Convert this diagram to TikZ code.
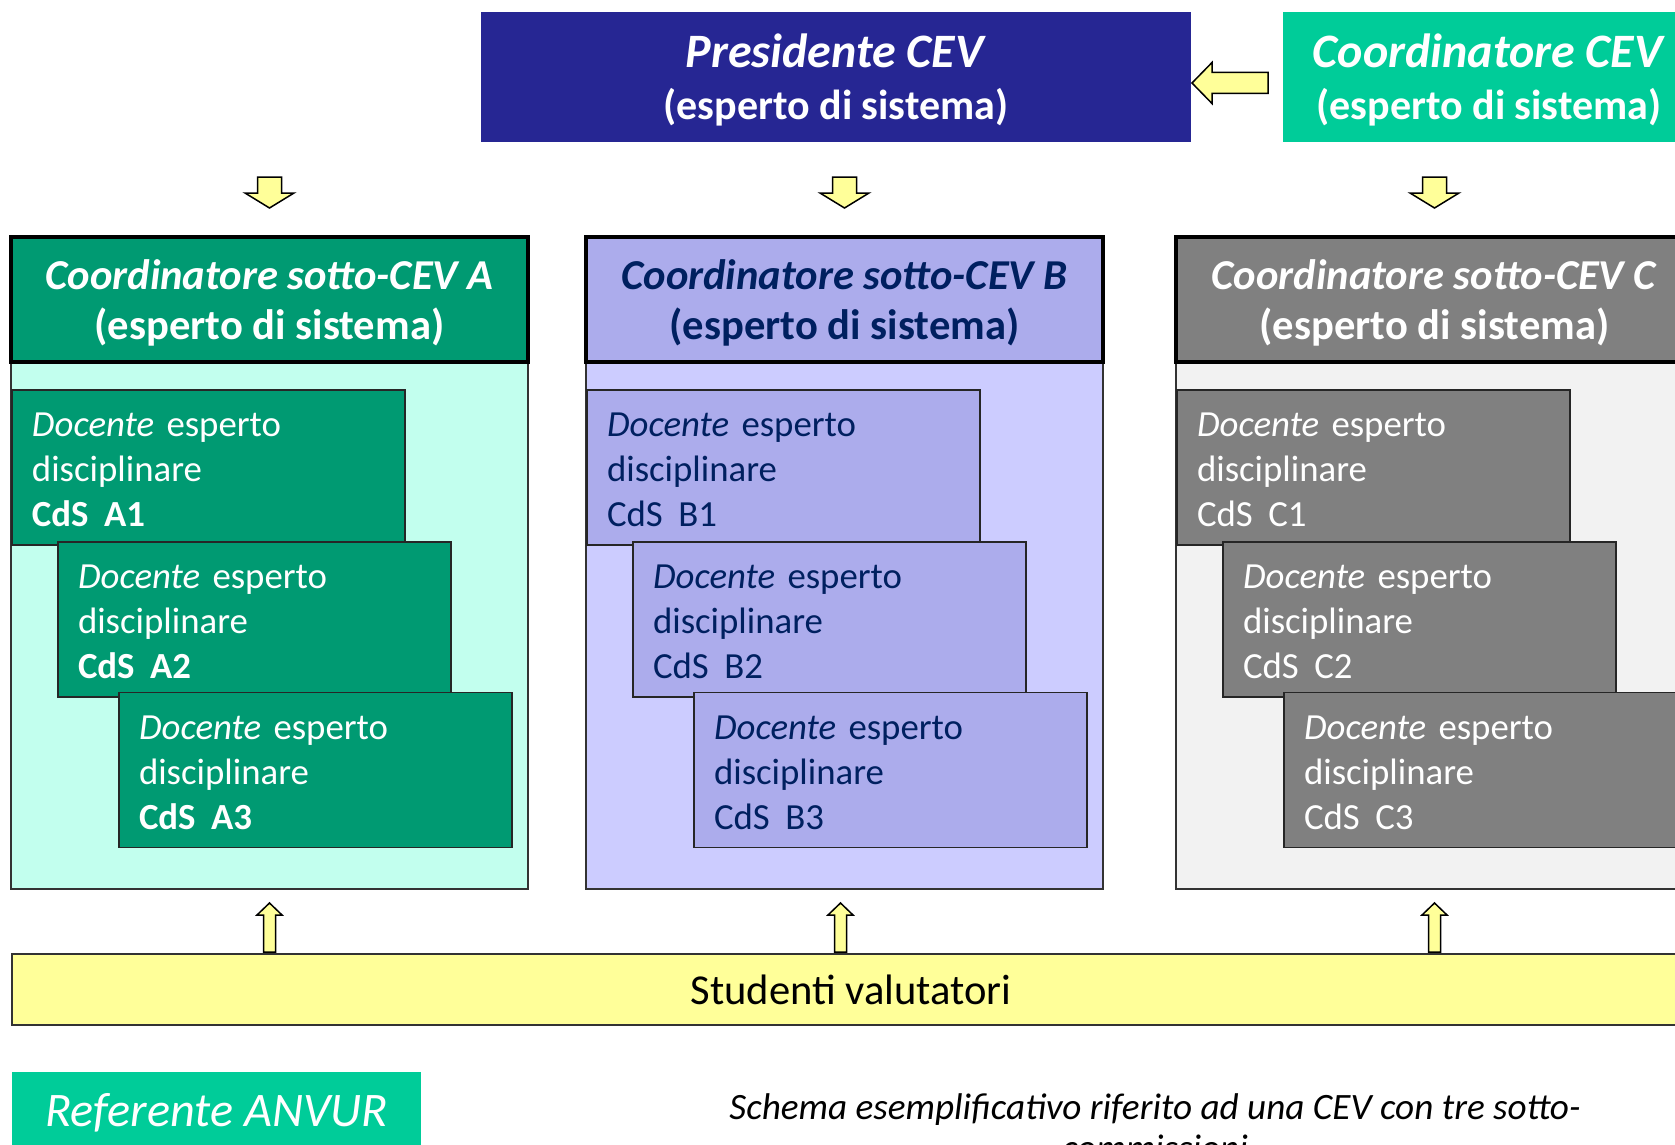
\documentclass[tikz,border=0pt]{standalone}
\usepackage{fontspec}
\setmainfont{Carlito}
\usetikzlibrary{calc}
\definecolor{presblue}{RGB}{38,38,147}
\definecolor{coordgreen}{RGB}{0,204,153}
\definecolor{agreen}{RGB}{0,154,114}
\definecolor{abg}{RGB}{194,255,238}
\definecolor{bhead}{RGB}{172,172,236}
\definecolor{bbg}{RGB}{204,204,255}
\definecolor{btext}{RGB}{0,32,96}
\definecolor{chead}{RGB}{128,128,128}
\definecolor{cbg}{RGB}{242,242,242}
\definecolor{blkyellow}{RGB}{255,255,153}
\newcommand{\topline}[1]{\rule{0pt}{19.5pt}\textit{#1}\\{\fontsize{21}{26}\selectfont(esperto di sistema)}}
\newcommand{\hdrtext}[1]{\rule{0pt}{18.2pt}\textit{#1}\\(esperto di sistema)}
\newcommand{\doctext}[1]{\rule{0pt}{14.3pt}\textit{Docente} esperto\\disciplinare\\#1}
\tikzset{
  topbox/.style={minimum width=#1, minimum height=65pt, inner sep=0pt, outer sep=0pt,
    align=center, text=white, font=\bfseries\fontsize{24}{26}\selectfont},
  hdr/.style={draw=black, line width=1.75pt, minimum width=258.5pt, minimum height=62.5pt,
    inner sep=0pt, outer sep=0pt, align=center, font=\bfseries\fontsize{21.3}{25}\selectfont},
  colbg/.style={draw=black!80, line width=0.75pt, minimum width=258.5pt, minimum height=326pt,
    inner sep=0pt, outer sep=0pt},
  docbox/.style={draw=black!85, line width=0.9pt, minimum width=196.5pt, minimum height=77.5pt,
    inner xsep=10pt, inner ysep=0pt, outer sep=0pt, text width=176.5pt, align=left,
    font=\fontsize{18.4}{22.5}\selectfont},
  arrowst/.style={draw=black, line width=0.75pt, fill=blkyellow, line join=miter},
  pics/downblk/.style={code={\draw[arrowst] (-12,0) -- (12,0) -- (12,16) -- (24.5,16) -- (0,31) -- (-24.5,16) -- (-12,16) -- cycle;}},
  pics/upblk/.style={code={\draw[arrowst] (-6,0) -- (-6,-37) -- (-12.5,-37) -- (0,-49) -- (12.5,-37) -- (6,-37) -- (6,0) -- cycle;}},
  pics/leftblk/.style={code={\draw[arrowst] (0,0) -- (20,-20.5) -- (20,-10.5) -- (76,-10.5) -- (76,10.5) -- (20,10.5) -- (20,20.5) -- cycle;}},
}
\begin{document}
\begin{tikzpicture}[x=0.5pt,y=-0.5pt]
\useasboundingbox (0,0) rectangle (1675,1145);
\clip (0,0) rectangle (1675,1145);

% top boxes
\node[topbox=355pt, fill=presblue] (pres) at (836,77) {\topline{Presidente CEV}};
\node[topbox=206pt, fill=coordgreen] (coord) at (1489,77) {\topline{Coordinatore CEV}};
\pic at ($(pres.east)+(1,6)$) {leftblk};

% column A
\node[colbg, fill=abg] (cA) at (269.5,563) {};
\node[hdr, fill=agreen, text=white] (hA) at (269.5,299.5) {\hdrtext{Coordinatore sotto-CEV A}};
\node[docbox, fill=agreen, text=white] (a1) at (208.5,467.5) {\doctext{\textbf{CdS\hspace{0.42em}A1}}};
\node[docbox, fill=agreen, text=white] (a2) at (254.5,619.5) {\doctext{\textbf{CdS\hspace{0.42em}A2}}};
\node[docbox, fill=agreen, text=white] (a3) at (315.5,770) {\doctext{\textbf{CdS\hspace{0.42em}A3}}};

% column B
\node[colbg, fill=bbg] (cB) at (844.5,563) {};
\node[hdr, fill=bhead, text=btext] (hB) at (844.5,299.5) {\hdrtext{Coordinatore sotto-CEV B}};
\node[docbox, fill=bhead, text=btext] (b1) at (783.5,467.5) {\doctext{CdS\hspace{0.42em}B1}};
\node[docbox, fill=bhead, text=btext] (b2) at (829.5,619.5) {\doctext{CdS\hspace{0.42em}B2}};
\node[docbox, fill=bhead, text=btext] (b3) at (890.5,770) {\doctext{CdS\hspace{0.42em}B3}};

% column C
\node[colbg, fill=cbg] (cC) at (1434.5,563) {};
\node[hdr, fill=chead, text=white] (hC) at (1434.5,299.5) {\hdrtext{Coordinatore sotto-CEV C}};
\node[docbox, fill=chead, text=white] (c1) at (1373.5,467.5) {\doctext{CdS\hspace{0.42em}C1}};
\node[docbox, fill=chead, text=white] (c2) at (1419.5,619.5) {\doctext{CdS\hspace{0.42em}C2}};
\node[docbox, fill=chead, text=white] (c3) at (1480.5,770) {\doctext{CdS\hspace{0.42em}C3}};

% down arrows
\pic at ($(hA.north)+(0,-60)$) {downblk};
\pic at ($(hB.north)+(0,-60)$) {downblk};
\pic at ($(hC.north)+(0,-60)$) {downblk};

% students bar
\node[draw=black!80, line width=0.75pt, fill=blkyellow, minimum width=839pt, minimum height=35.5pt,
  inner sep=0pt, outer sep=0pt, font=\fontsize{21.3}{21.3}\selectfont] (stud) at (851,989.5) {Studenti valutatori};
\pic at ($(cA.south |- stud.north)+(0,-2)$) {upblk};
\pic at ($(cB.south |- stud.north)+(-4,-2)$) {upblk};
\pic at ($(cC.south |- stud.north)+(0,-2)$) {upblk};

% bottom
\node[fill=coordgreen, minimum width=204.5pt, minimum height=41pt, inner sep=0pt, outer sep=0pt,
  text=white, font=\itshape\fontsize{24.1}{24.1}\selectfont] (ref) at (216.5,1113) {Referente ANVUR};
\node[anchor=north, inner sep=0pt, align=center, font=\itshape\fontsize{18.6}{20.5}\selectfont] (cap) at (1155,1093)
  {Schema esemplificativo riferito ad una CEV con tre sotto-\\commissioni};
\end{tikzpicture}
\end{document}
